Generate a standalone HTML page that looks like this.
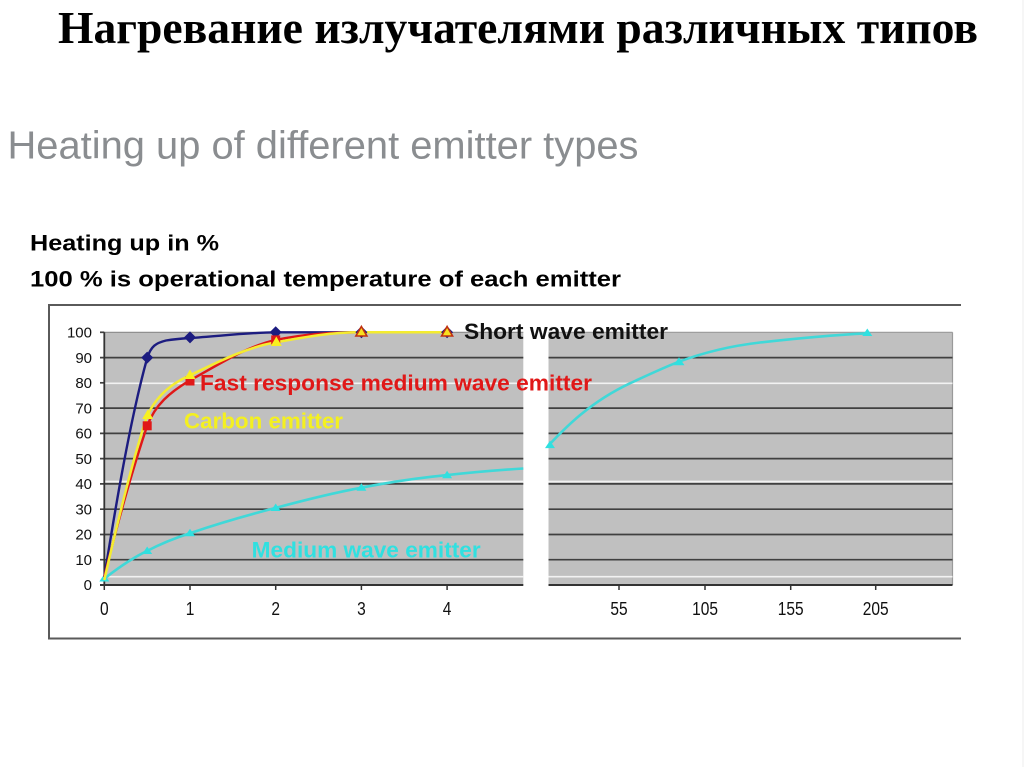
<!DOCTYPE html>
<html>
<head>
<meta charset="utf-8">
<style>
  html,body{margin:0;padding:0;background:#fff;}
  svg{display:block;}
</style>
</head>
<body>
<svg width="1024" height="767" viewBox="0 0 1024 767" xmlns="http://www.w3.org/2000/svg">
  <rect x="0" y="0" width="1024" height="767" fill="#ffffff"/>
  <line x1="1023" y1="0" x2="1023" y2="767" stroke="#ececec" stroke-width="1"/>

  <!-- Title -->
  <text x="58" y="43" font-family="'Liberation Serif', serif" font-weight="bold" font-size="46" fill="#000" textLength="920" lengthAdjust="spacingAndGlyphs">Нагревание излучателями различных типов</text>

  <text x="7.5" y="158.5" font-family="'Liberation Sans', sans-serif" font-size="38.5" fill="#8a8d90" textLength="631" lengthAdjust="spacingAndGlyphs">Heating up of different emitter types</text>

  <text x="30" y="250.7" font-family="'Liberation Sans', sans-serif" font-weight="bold" font-size="22.5" fill="#000" textLength="189" lengthAdjust="spacingAndGlyphs">Heating up in %</text>
  <text x="30" y="286.7" font-family="'Liberation Sans', sans-serif" font-weight="bold" font-size="22.5" fill="#000" textLength="591" lengthAdjust="spacingAndGlyphs">100 % is operational temperature of each emitter</text>

  <!-- Chart box -->
  <line x1="48" y1="305" x2="961" y2="305" stroke="#5a5a5a" stroke-width="2"/>
  <line x1="48" y1="638.5" x2="961" y2="638.5" stroke="#5a5a5a" stroke-width="2"/>
  <line x1="49" y1="304" x2="49" y2="639.5" stroke="#5a5a5a" stroke-width="2"/>

  <!-- Plot areas -->
  <rect x="104.3" y="332.3" width="419" height="252.7" fill="#c0c0c0"/>
  <rect x="548.5" y="332.3" width="404" height="252.7" fill="#c0c0c0"/>
  <line x1="548.5" y1="332.3" x2="952.5" y2="332.3" stroke="#9a9a9a" stroke-width="1.2"/>
  <line x1="952.5" y1="332.3" x2="952.5" y2="585" stroke="#9a9a9a" stroke-width="1.2"/>
  <line x1="104.3" y1="332.3" x2="523.3" y2="332.3" stroke="#8a8a8a" stroke-width="1.2"/>

  <!-- Gridlines dark -->
  <g stroke="#404040" stroke-width="1.7">
    <line x1="100" y1="357.6" x2="523.3" y2="357.6"/><line x1="548.5" y1="357.6" x2="952.5" y2="357.6"/>
    <line x1="100" y1="408.1" x2="523.3" y2="408.1"/><line x1="548.5" y1="408.1" x2="952.5" y2="408.1"/>
    <line x1="100" y1="433.4" x2="523.3" y2="433.4"/><line x1="548.5" y1="433.4" x2="952.5" y2="433.4"/>
    <line x1="100" y1="458.6" x2="523.3" y2="458.6"/><line x1="548.5" y1="458.6" x2="952.5" y2="458.6"/>
    <line x1="100" y1="483.9" x2="523.3" y2="483.9"/><line x1="548.5" y1="483.9" x2="952.5" y2="483.9"/>
    <line x1="100" y1="509.2" x2="523.3" y2="509.2"/><line x1="548.5" y1="509.2" x2="952.5" y2="509.2"/>
    <line x1="100" y1="534.5" x2="523.3" y2="534.5"/><line x1="548.5" y1="534.5" x2="952.5" y2="534.5"/>
    <line x1="100" y1="559.7" x2="523.3" y2="559.7"/><line x1="548.5" y1="559.7" x2="952.5" y2="559.7"/>
    <line x1="100" y1="382.8" x2="104.3" y2="382.8"/>
    <line x1="100" y1="332.3" x2="104.3" y2="332.3"/>
  </g>
  <!-- White lines -->
  <g stroke="#f2f2f2" stroke-width="1.6">
    <line x1="104.3" y1="383.3" x2="523.3" y2="383.3"/><line x1="548.5" y1="383.3" x2="952.5" y2="383.3"/>
    <line x1="104.3" y1="481.4" x2="523.3" y2="481.4"/><line x1="548.5" y1="481.4" x2="952.5" y2="481.4"/>
    <line x1="104.3" y1="576.7" x2="523.3" y2="576.7"/><line x1="548.5" y1="576.7" x2="952.5" y2="576.7"/>
  </g>

  <!-- Axes -->
  <line x1="104.3" y1="332.3" x2="104.3" y2="586" stroke="#333" stroke-width="1.8"/>
  <line x1="100" y1="585" x2="523.3" y2="585" stroke="#333" stroke-width="2"/>
  <line x1="548.5" y1="585" x2="952.5" y2="585" stroke="#333" stroke-width="2"/>
  <g stroke="#333" stroke-width="1.5">
    <line x1="104.3" y1="585" x2="104.3" y2="590"/>
    <line x1="190" y1="585" x2="190" y2="590"/>
    <line x1="275.7" y1="585" x2="275.7" y2="590"/>
    <line x1="361.4" y1="585" x2="361.4" y2="590"/>
    <line x1="447.1" y1="585" x2="447.1" y2="590"/>
    <line x1="619" y1="585" x2="619" y2="590"/>
    <line x1="705" y1="585" x2="705" y2="590"/>
    <line x1="790.7" y1="585" x2="790.7" y2="590"/>
    <line x1="875.7" y1="585" x2="875.7" y2="590"/>
  </g>

  <!-- Y labels -->
  <g font-family="'Liberation Sans', sans-serif" font-size="15" fill="#111" text-anchor="end">
    <text x="92" y="337.5">100</text>
    <text x="92" y="362.8">90</text>
    <text x="92" y="388">80</text>
    <text x="92" y="413.3">70</text>
    <text x="92" y="438.6">60</text>
    <text x="92" y="463.8">50</text>
    <text x="92" y="489.1">40</text>
    <text x="92" y="514.4">30</text>
    <text x="92" y="539.7">20</text>
    <text x="92" y="564.9">10</text>
    <text x="92" y="590.2">0</text>
  </g>
  <!-- X labels -->
  <g font-family="'Liberation Sans', sans-serif" font-size="15.5" fill="#111" text-anchor="middle">
    <text transform="translate(104.3,615) scale(1,1.2)">0</text>
    <text transform="translate(190,615) scale(1,1.2)">1</text>
    <text transform="translate(275.7,615) scale(1,1.2)">2</text>
    <text transform="translate(361.4,615) scale(1,1.2)">3</text>
    <text transform="translate(447.1,615) scale(1,1.2)">4</text>
    <text transform="translate(619,615) scale(1,1.2)">55</text>
    <text transform="translate(705,615) scale(1,1.2)">105</text>
    <text transform="translate(790.7,615) scale(1,1.2)">155</text>
    <text transform="translate(875.7,615) scale(1,1.2)">205</text>
  </g>

  <!-- Cyan (medium wave) -->
  <g fill="none" stroke="#40d8d8" stroke-width="2.6" stroke-linejoin="round">
    <path d="M104.3,578.7 C118,568 132,558 147.2,550.9 C162,543 175,538 190,533.2 C220,523 248,515 275.7,507.9 C305,500 333,493 361.4,487.7 C390,482 418,478 447.1,475.1 C475,472 500,470 523.3,468.5"/>
    <path d="M549,445 C565,428 590,402 630,383.3 C650,374 665,367 679,361.7 C705,352 730,346 760,342.5 C800,338 835,335 867.3,333.3"/>
  </g>
  <g fill="#30e0e0">
    <path d="M104.3,574 l5,7.5 h-10 z"/>
    <path d="M147.2,546.5 l5,7.5 h-10 z"/>
    <path d="M190,528.8 l5,7.5 h-10 z"/>
    <path d="M275.7,503.5 l5,7.5 h-10 z"/>
    <path d="M361.4,483.3 l5,7.5 h-10 z"/>
    <path d="M447.1,470.7 l5,7.5 h-10 z"/>
    <path d="M550,440.6 l5,7.5 h-10 z"/>
    <path d="M679,357.3 l5.5,8 h-11 z"/>
    <path d="M867.3,328.5 l5,7.5 h-10 z"/>
  </g>

  <!-- Navy (short wave) -->
  <path d="M104.3,577 C115,510 130,420 147.2,358 C151,346 156,343 166,340.5 C175,339 182,338.5 190,338 C220,336 250,332.5 275.7,332.3 L447.1,332.3" fill="none" stroke="#1c1c80" stroke-width="2.4"/>

  <!-- Red (fast response MW) -->
  <path d="M104.3,577 C118,520 135,462 147.2,425.8 C155,405 170,392 190,380.3 C220,364 245,347 275.7,339.9 C305,334 330,332.3 361.4,332.3 L447.1,332.3" fill="none" stroke="#e01818" stroke-width="2.4"/>

  <!-- Yellow (carbon) -->
  <path d="M104.3,580 C118,520 135,452 147.2,415.7 C156,397 170,384 190,375.3 C222,360 248,347 275.7,342.4 C305,337 330,332.3 361.4,332.3 L447.1,332.3" fill="none" stroke="#f4ec30" stroke-width="2.5"/>

  <!-- Navy markers -->
  <g fill="#1c1c80">
    <path d="M147.2,351.6 l6,6 l-6,6 l-6,-6 z"/>
    <path d="M190,331.4 l6,6 l-6,6 l-6,-6 z"/>
    <path d="M275.7,326.3 l6,6 l-6,6 l-6,-6 z"/>
    <path d="M361.4,326.3 l6,6 l-6,6 l-6,-6 z"/>
    <path d="M447.1,326.3 l6,6 l-6,6 l-6,-6 z"/>
  </g>
  <!-- Red markers -->
  <g fill="#e01818">
    <rect x="142.7" y="421.3" width="9" height="9"/>
    <rect x="185.5" y="376.5" width="9" height="9"/>
    <rect x="271.2" y="335.4" width="9" height="9"/>
  </g>
  <!-- Yellow markers -->
  <g fill="#f8f020">
    <path d="M147.7,409.5 l5.5,9.5 h-11 z"/>
    <path d="M190,369.5 l5.5,9.5 h-11 z"/>
    <path d="M276.3,336.5 l5.5,9.5 h-11 z"/>
  </g>
  <g fill="#f8e020" stroke="#c03010" stroke-width="1.6">
    <path d="M361.4,326.5 l5.5,9.5 h-11 z"/>
    <path d="M447.1,326.5 l5.5,9.5 h-11 z"/>
  </g>

  <!-- Series labels -->
  <g font-family="'Liberation Sans', sans-serif" font-weight="bold" font-size="22">
    <text x="464" y="339" fill="#111" textLength="204" lengthAdjust="spacingAndGlyphs">Short wave emitter</text>
    <text x="200" y="390.5" fill="#e01818" textLength="392" lengthAdjust="spacingAndGlyphs">Fast response medium wave emitter</text>
    <text x="184" y="428.3" fill="#f4f020" textLength="159" lengthAdjust="spacingAndGlyphs">Carbon emitter</text>
    <text x="251.7" y="557.3" fill="#30e0e0" textLength="229" lengthAdjust="spacingAndGlyphs">Medium wave emitter</text>
  </g>
</svg>
</body>
</html>
